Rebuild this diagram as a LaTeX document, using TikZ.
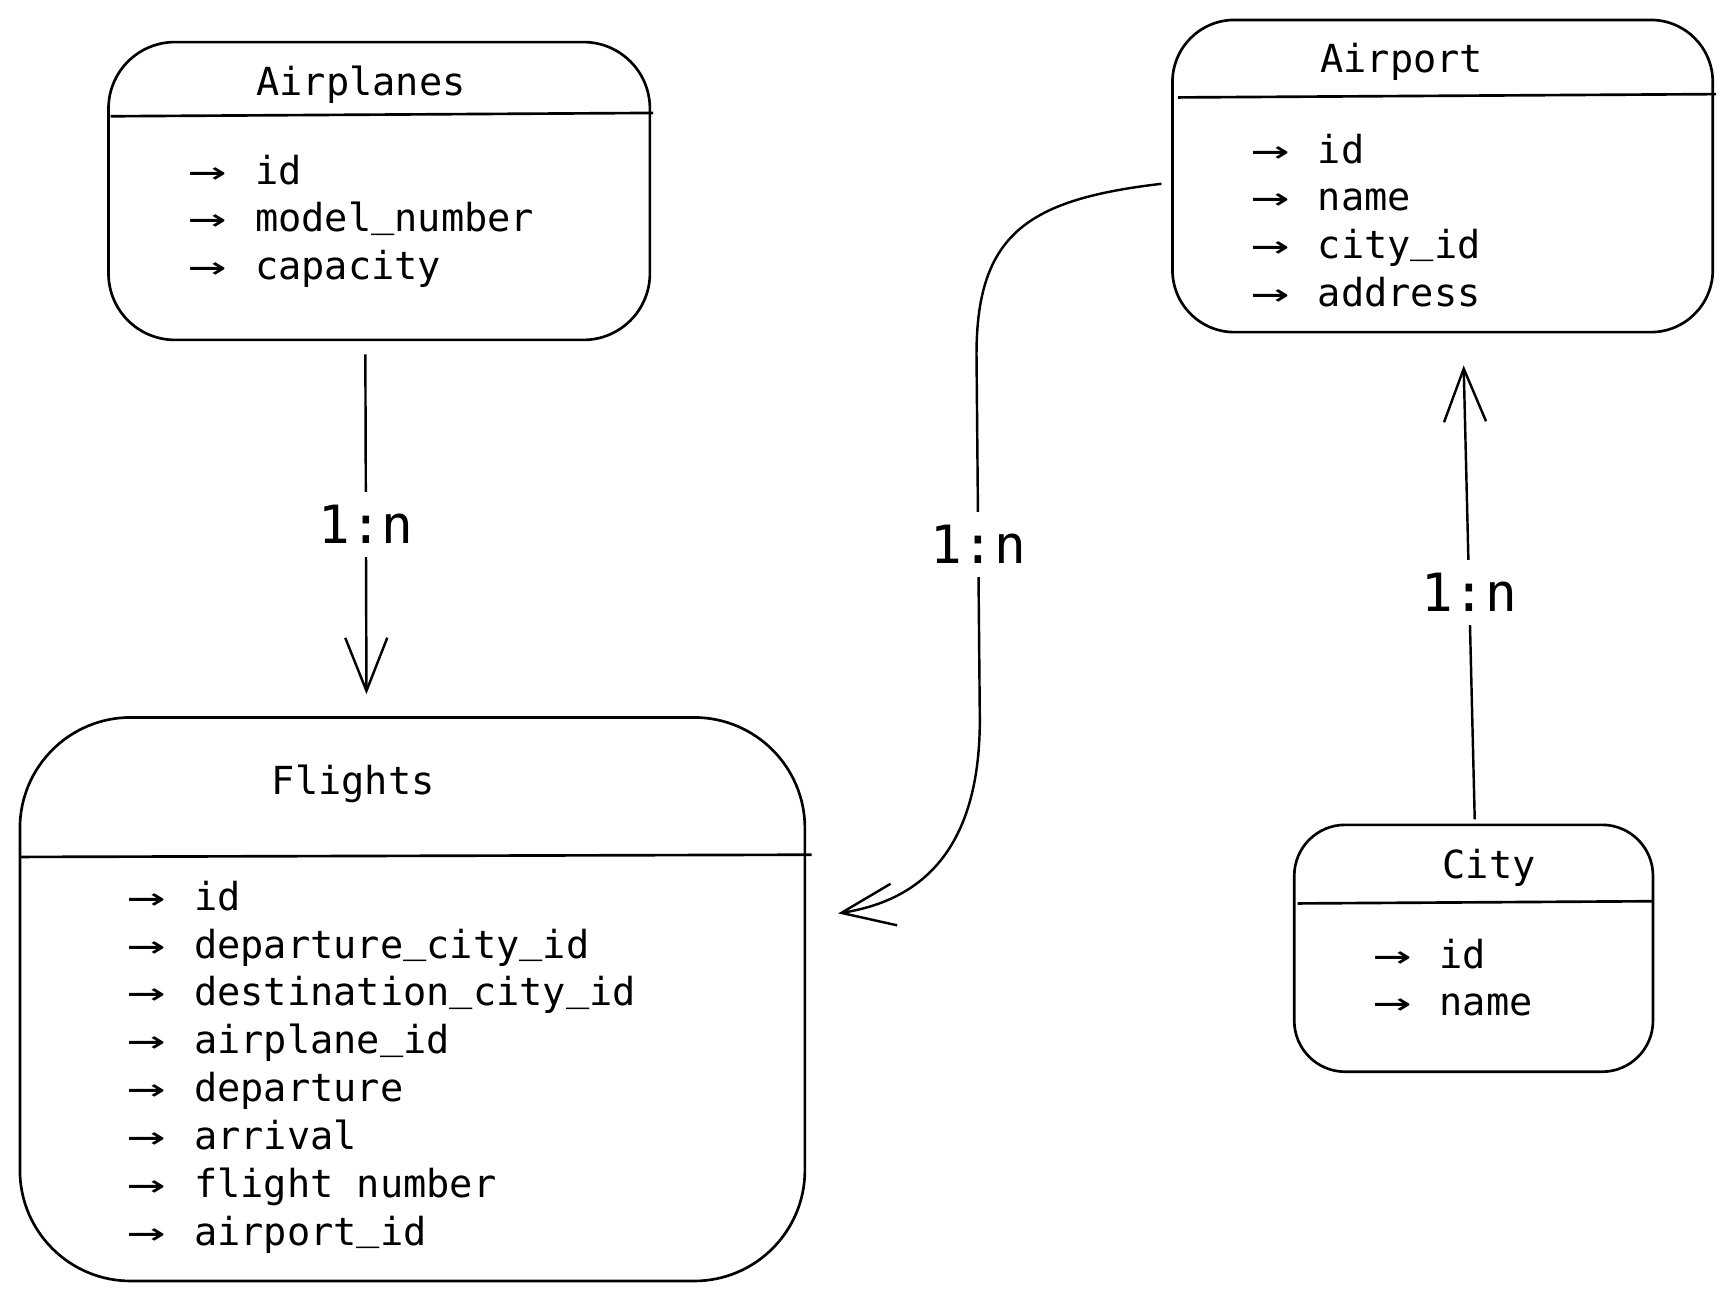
\documentclass[tikz,border=0pt]{standalone}
\usepackage{graphicx}
\usepackage{fontspec}
\setmonofont{DejaVu Sans Mono}
\usetikzlibrary{arrows.meta,calc}
\newcommand{\fld}[1]{\makebox[30pt][l]{\scalebox{1.65}[1]{→}}#1}
\newcommand{\us}{\raisebox{0.15em}{\_}}
\tikzset{
  box/.style={draw, line width=1.2pt, inner sep=0pt, outer sep=0pt},
  ttl/.style={font=\ttfamily\fontsize{17.44}{21.7}\selectfont, anchor=base, inner sep=0pt},
  fldn/.style={font=\ttfamily\fontsize{17.44}{21.7}\selectfont, anchor=base west, inner sep=0pt},
  lbl/.style={font=\ttfamily\fontsize{23.8}{28}\selectfont, fill=white, inner sep=6pt},
  conn/.style={line width=1.1pt, -{Straight Barb[length=24pt,width=19pt]}},
  hdr/.style={line width=1.2pt}
}
\begin{document}
\begin{tikzpicture}[x=0.5pt,y=-0.5pt]
\useasboundingbox (0,0) rectangle (1568,1174);
% boxes
\node[box, rounded corners=30pt, minimum width=244.5pt, minimum height=134.5pt] (airplanes) at (342.5,172.5) {};
\node[box, rounded corners=28pt, minimum width=244pt, minimum height=141pt] (airport) at (1303,159) {};
\node[box, rounded corners=50pt, minimum width=354.5pt, minimum height=254.5pt] (flights) at (372.5,902.5) {};
\node[box, rounded corners=23pt, minimum width=162pt, minimum height=111.5pt] (city) at (1331,856.5) {};
% header lines
\draw[hdr] (100,105) -- (590,102);
\draw[hdr] (1064,88) -- (1550,85);
\draw[hdr] (18,774) -- (733,772);
\draw[hdr] (1172,816) -- (1492,814);
% titles
\node[ttl] (t-airplanes) at (326,86) {Airplanes};
\node[ttl] (t-airport) at (1266,65.6) {Airport};
\node[ttl] (t-flights) at (319,718) {Flights};
\node[ttl] (t-city) at (1345,793.4) {City};
% airplanes fields
\node[fldn] (ap1) at (170,167) {\fld{id}};
\node[fldn] (ap2) at (170,209.5) {\fld{model\us number}};
\node[fldn] (ap3) at (170,252) {\fld{capacity}};
% airport fields
\node[fldn] (ar1) at (1130,147.5) {\fld{id}};
\node[fldn] (ar2) at (1130,190.5) {\fld{name}};
\node[fldn] (ar3) at (1130,233.5) {\fld{city\us id}};
\node[fldn] (ar4) at (1130,276.5) {\fld{address}};
% flights fields
\node[fldn] (f1) at (115,822) {\fld{id}};
\node[fldn] (f2) at (115,865.3) {\fld{departure\us city\us id}};
\node[fldn] (f3) at (115,908.6) {\fld{destination\us city\us id}};
\node[fldn] (f4) at (115,951.9) {\fld{airplane\us id}};
\node[fldn] (f5) at (115,995.2) {\fld{departure}};
\node[fldn] (f6) at (115,1038.5) {\fld{arrival}};
\node[fldn] (f7) at (115,1081.8) {\fld{flight number}};
\node[fldn] (f8) at (115,1125.1) {\fld{airport\us id}};
% city fields
\node[fldn] (c1) at (1240,874.7) {\fld{id}};
\node[fldn] (c2) at (1240,917.5) {\fld{name}};
% connectors
\draw[conn] ($(airplanes.south)+(-12.5,13)$) -- node[lbl] (l1) {1:n} ($(flights.north)+(-41.5,-21)$);
\draw[conn] ($(airport.west)+(-10,7)$) .. controls (930,180) and (882,210) .. (882,320)
   -- node[lbl, pos=0.52] (l2) {1:n} (885,650)
   .. controls (885,780) and (820,815) .. ($(flights.east)+(30,-77.5)$);
\draw[conn] ($(city.north)+(1,-5)$) -- node[lbl] (l3) {1:n} ($(airport.south)+(19,30)$);
\end{tikzpicture}
\end{document}
